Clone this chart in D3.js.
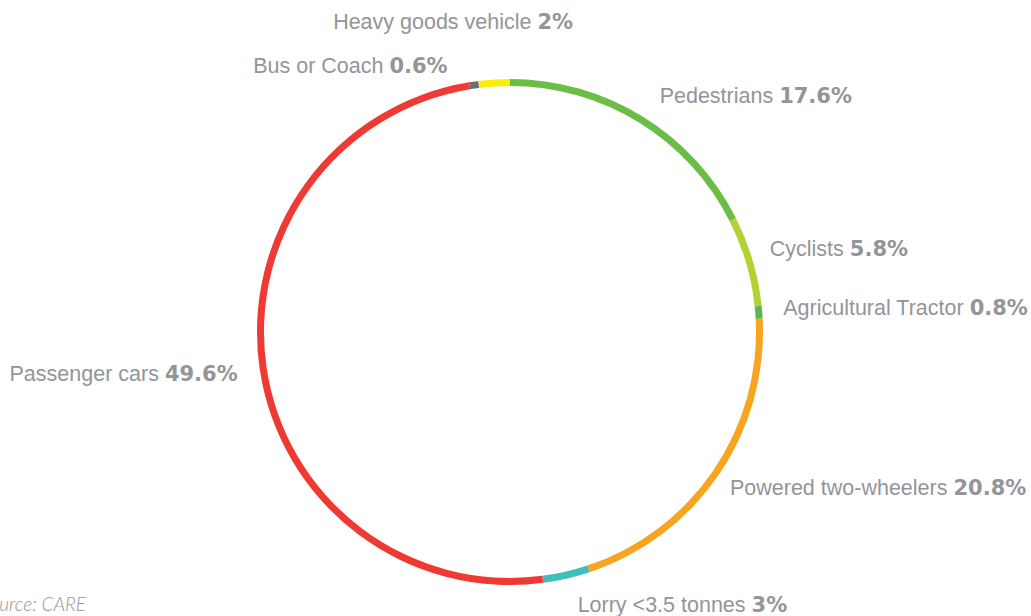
<!DOCTYPE html>
<html>
<head>
<meta charset="utf-8">
<script src="https://cdn.jsdelivr.net/npm/d3@7"></script>
<style>
    body { margin: 0; background: #ffffff; }
    svg { display: block; }
    .label { font-family: "Liberation Sans", Arial, sans-serif; font-size: 21.5px; fill: #939598; }
    .label tspan.value { font-family: "DejaVu Sans", sans-serif; font-weight: bold; font-size: 21px; }
    .source { font-family: Lato, sans-serif; font-style: italic; font-weight: 300; font-size: 19px; fill: #939598; }
</style>
</head>
<body>
<div id="chart"></div>
<script>
    // Data (clockwise from top)
    var categories = ["Pedestrians", "Cyclists", "Agricultural Tractor", "Powered two-wheelers",
        "Lorry <3.5 tonnes", "Passenger cars", "Bus or Coach", "Heavy goods vehicle"];
    var shares = [17.6, 5.8, 0.8, 20.8, 3, 49.6, 0.6, 2];
    var valueLabels = ["17.6%", "5.8%", "0.8%", "20.8%", "3%", "49.6%", "0.6%", "2%"];
    var colors = ["#6cbd45", "#b2d235", "#5cb94f", "#f7a520", "#3ebfbe", "#ee3a33", "#6d6e71", "#fdeb0a"];

    // Label nudges relative to the ring point at mid angle (layout only)
    var labelNudge = [[17, -14], [17, -5], [21, 3], [11, 20], [11, 33], [-22, 12], [-26, -9], [79, -51]];
    var labelAnchor = ["start", "start", "start", "start", "start", "end", "end", "end"];

    var width = 1031, height = 616;
    var cx = 510, cy = 332;
    var outerR = 253, innerR = 246;

    var svg = d3.select("#chart").append("svg")
        .attr("width", width)
        .attr("height", height);

    var g = svg.append("g")
        .attr("transform", "translate(" + cx + "," + cy + ")");

    var pie = d3.pie()
        .sort(null)
        .value(function (d) { return d; });

    var arcs = pie(shares);

    var arc = d3.arc()
        .innerRadius(innerR)
        .outerRadius(outerR);

    g.selectAll("path")
        .data(arcs)
        .enter()
        .append("path")
        .attr("d", arc)
        .attr("fill", function (d, i) { return colors[i]; });

    // Labels
    var labels = g.selectAll("text.label")
        .data(arcs)
        .enter()
        .append("text")
        .attr("class", "label")
        .attr("text-anchor", function (d, i) { return labelAnchor[i]; })
        .attr("x", function (d, i) {
            var a = (d.startAngle + d.endAngle) / 2;
            return outerR * Math.sin(a) + labelNudge[i][0];
        })
        .attr("y", function (d, i) {
            var a = (d.startAngle + d.endAngle) / 2;
            return -outerR * Math.cos(a) + labelNudge[i][1];
        });

    labels.append("tspan")
        .text(function (d, i) { return categories[i] + " "; });

    labels.append("tspan")
        .attr("class", "value")
        .text(function (d, i) { return valueLabels[i]; });

    // Source (cut at the left edge, as in the original)
    svg.append("text")
        .attr("class", "source")
        .attr("text-anchor", "end")
        .attr("x", 86)
        .attr("y", 611)
        .text("Source: CARE");
</script>
</body>
</html>
